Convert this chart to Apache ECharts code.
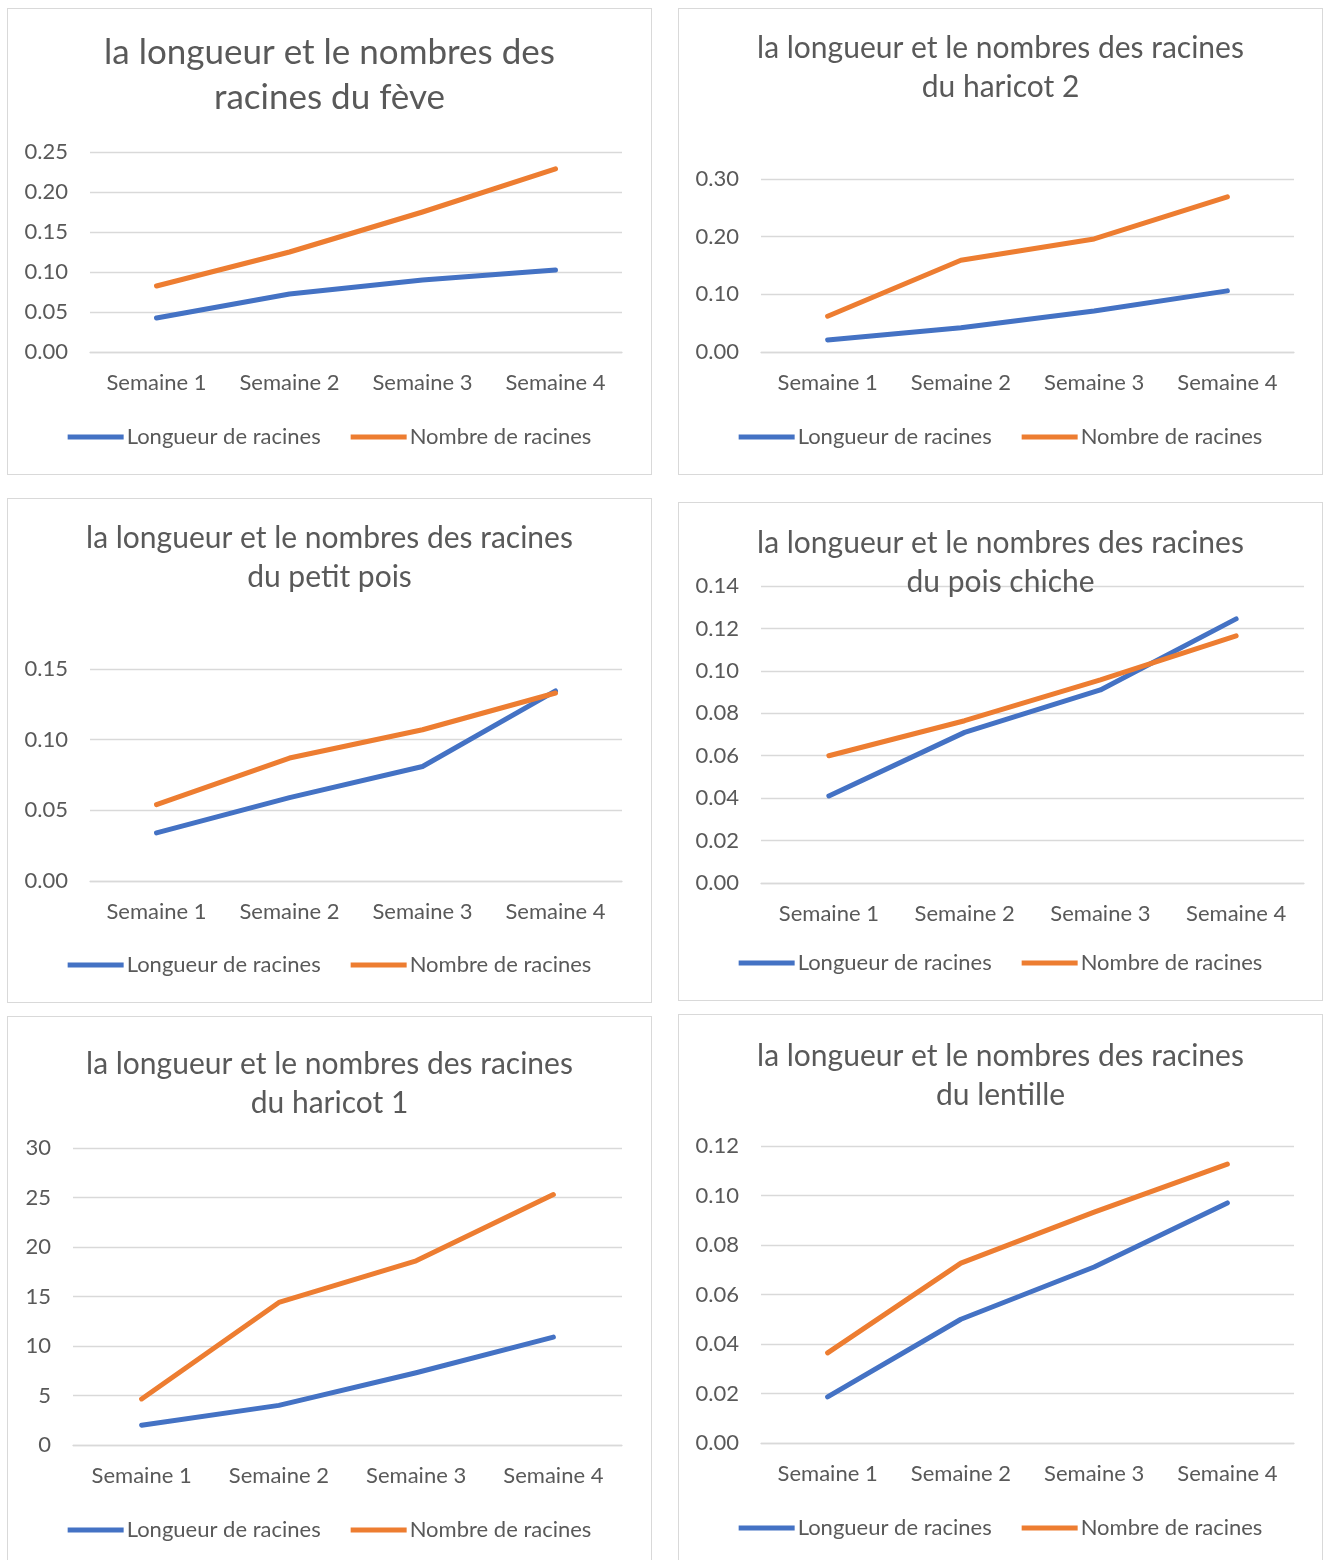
<!DOCTYPE html>
<html>
<head>
<meta charset="utf-8">
<script src="https://cdn.jsdelivr.net/npm/echarts@6/dist/echarts.min.js"></script>
<style>
html,body{margin:0;padding:0;background:#fff;width:1330px;height:1560px;overflow:hidden;}
.p{position:absolute;box-sizing:border-box;border:1.5px solid #D9D9D9;background:#fff;}
.c{position:absolute;left:0;top:0;width:100%;height:100%;}
</style>
</head>
<body>
<div id="p1" class="p" style="left:7px;top:8px;width:645px;height:467px"><div id="c1" class="c"></div></div>
<div id="p2" class="p" style="left:678px;top:8px;width:645px;height:467px"><div id="c2" class="c"></div></div>
<div id="p3" class="p" style="left:7px;top:498px;width:645px;height:505px"><div id="c3" class="c"></div></div>
<div id="p4" class="p" style="left:678px;top:502px;width:645px;height:499px"><div id="c4" class="c"></div></div>
<div id="p5" class="p" style="left:7px;top:1016px;width:645px;height:580px"><div id="c5" class="c"></div></div>
<div id="p6" class="p" style="left:678px;top:1014px;width:645px;height:580px"><div id="c6" class="c"></div></div>
<script>
const categories = ['Semaine 1', 'Semaine 2', 'Semaine 3', 'Semaine 4'];
const seriesNames = ['Longueur de racines', 'Nombre de racines'];

const titles = [
  'la longueur et le nombres des\nracines du fève',
  'la longueur et le nombres des racines\ndu haricot 2',
  'la longueur et le nombres des racines\ndu petit pois',
  'la longueur et le nombres des racines\ndu pois chiche',
  'la longueur et le nombres des racines\ndu haricot 1',
  'la longueur et le nombres des racines\ndu lentille'
];

// fève
const feveLongueur = [0.0425, 0.0725, 0.090, 0.1025];
const feveNombre   = [0.0825, 0.125, 0.175, 0.229];
// haricot 2
const haricot2Longueur = [0.021, 0.042, 0.071, 0.106];
const haricot2Nombre   = [0.062, 0.159, 0.196, 0.269];
// petit pois
const petitPoisLongueur = [0.034, 0.059, 0.081, 0.1345];
const petitPoisNombre   = [0.054, 0.087, 0.107, 0.133];
// pois chiche
const poisChicheLongueur = [0.041, 0.071, 0.091, 0.1245];
const poisChicheNombre   = [0.060, 0.0765, 0.0957, 0.1165];
// haricot 1
const haricot1Longueur = [2.0, 4.0, 7.3, 10.9];
const haricot1Nombre   = [4.65, 14.4, 18.6, 25.3];
// lentille
const lentilleLongueur = [0.0186, 0.050, 0.0711, 0.097];
const lentilleNombre   = [0.0364, 0.0727, 0.0933, 0.1127];

// y-axis tick settings
const yMax = [0.25, 0.30, 0.15, 0.14, 30, 0.12];
const yInterval = [0.05, 0.10, 0.05, 0.02, 5, 0.02];
const yDecimals = [2, 2, 2, 2, 0, 2];

const dataSets = [
  [feveLongueur, feveNombre],
  [haricot2Longueur, haricot2Nombre],
  [petitPoisLongueur, petitPoisNombre],
  [poisChicheLongueur, poisChicheNombre],
  [haricot1Longueur, haricot1Nombre],
  [lentilleLongueur, lentilleNombre]
];

// layout (pixels relative to each panel)
const layouts = [
  {grid:{left:82, top:143, width:532, height:200}, titleTop:21, titleSize:35, titleLH:45, legendTop:412},
  {grid:{left:82, top:170, width:533, height:173}, titleTop:20, titleSize:30, titleLH:39, legendTop:412},
  {grid:{left:82, top:170, width:532, height:212}, titleTop:20, titleSize:30, titleLH:39, legendTop:450},
  {grid:{left:82, top:83, width:543, height:297}, titleTop:21, titleSize:30, titleLH:39, legendTop:444},
  {grid:{left:65, top:131, width:549, height:297}, titleTop:28, titleSize:30, titleLH:39, legendTop:497},
  {grid:{left:82, top:131, width:533, height:297}, titleTop:22, titleSize:30, titleLH:39, legendTop:497}
];

const FONT = 'Lato, "Open Sans", sans-serif';
const TXT = '#595959';
const colors = ['#4472C4', '#ED7D31'];

for (let i = 0; i < 6; i++) {
  const el = document.getElementById('c' + (i + 1));
  const chart = echarts.init(el, null, {renderer: 'canvas'});
  const L = layouts[i];
  const dec = yDecimals[i];
  chart.setOption({
    animation: false,
    color: colors,
    title: {
      text: titles[i],
      left: '50%',
      top: L.titleTop,
      textAlign: 'center',
      padding: 0,
      textStyle: {fontFamily: FONT, fontSize: L.titleSize, fontWeight: 'normal', color: TXT, lineHeight: L.titleLH}
    },
    legend: {
      data: seriesNames,
      left: 'center',
      top: L.legendTop,
      icon: 'rect',
      itemWidth: 56,
      itemHeight: 5,
      itemGap: 30,
      textStyle: {fontFamily: FONT, fontSize: 22, color: TXT, padding: [0, 0, 0, -2]}
    },
    grid: Object.assign({containLabel: false}, L.grid),
    xAxis: {
      type: 'category',
      data: categories,
      boundaryGap: true,
      axisLine: {show: true, lineStyle: {color: '#D9D9D9', width: 1.3}},
      axisTick: {show: false},
      axisLabel: {fontFamily: FONT, fontSize: 22, color: TXT, margin: 20}
    },
    yAxis: {
      type: 'value',
      min: 0,
      max: yMax[i],
      interval: yInterval[i],
      axisLine: {show: false},
      axisTick: {show: false},
      splitLine: {lineStyle: {color: '#D9D9D9', width: 1.3}},
      axisLabel: {fontFamily: FONT, fontSize: 22, color: TXT, margin: 22,
        formatter: v => v.toFixed(dec)}
    },
    series: seriesNames.map((n, k) => ({
      name: n,
      type: 'line',
      data: dataSets[i][k],
      showSymbol: false,
      symbol: 'none',
      lineStyle: {width: 5, cap: 'round', join: 'round'},
      z: 3
    }))
  });
}
</script>
</body>
</html>
